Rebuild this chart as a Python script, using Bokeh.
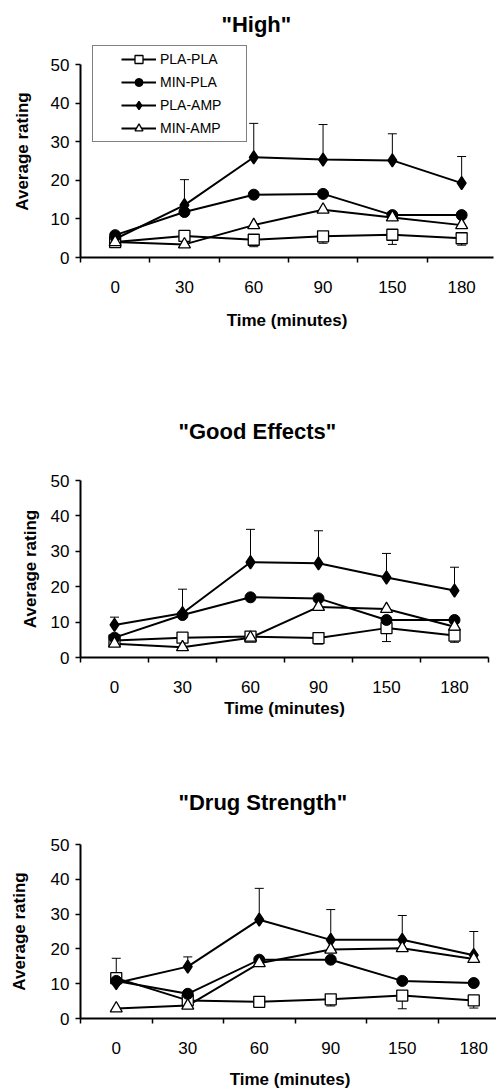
import numpy as np
from bokeh.plotting import figure
from bokeh.models import (Range1d, FixedTicker, ColumnDataSource, Whisker, TeeHead,
                          Legend, LegendItem)
from bokeh.layouts import column
from bokeh.embed import file_html
from bokeh.resources import INLINE

# ---------------- data ----------------
times = ["0", "30", "60", "90", "150", "180"]
series_names = ["PLA-PLA", "MIN-PLA", "PLA-AMP", "MIN-AMP"]

high_pla_pla = [4.0, 5.6, 4.6, 5.5, 5.9, 5.0]
high_pla_pla_err = [0.5, 0.5, 1.8, 1.8, 2.5, 1.8]
high_min_pla = [5.8, 11.8, 16.3, 16.5, 11.0, 11.0]
high_pla_amp = [4.8, 13.6, 26.0, 25.4, 25.2, 19.3]
high_pla_amp_err = [0.5, 6.6, 8.8, 9.1, 6.9, 6.9]
high_min_amp = [4.0, 3.4, 8.4, 12.4, 10.4, 8.4]

good_pla_pla = [4.8, 5.6, 5.9, 5.5, 8.3, 6.2]
good_pla_pla_err = [0.5, 0.5, 0.5, 1.7, 3.8, 1.9]
good_min_pla = [5.6, 12.0, 17.0, 16.7, 10.6, 10.6]
good_pla_amp = [9.2, 12.5, 26.9, 26.6, 22.6, 18.9]
good_pla_amp_err = [2.2, 6.8, 9.3, 9.2, 6.8, 6.6]
good_min_amp = [3.9, 2.9, 5.6, 14.3, 13.7, 8.7]

drug_pla_pla = [11.6, 5.2, 4.8, 5.5, 6.6, 5.2]
drug_pla_pla_err = [0.5, 0.5, 1.5, 1.9, 3.8, 2.2]
drug_min_pla = [10.8, 7.1, 16.9, 16.9, 10.8, 10.2]
drug_pla_amp = [10.2, 14.9, 28.4, 22.6, 22.6, 18.2]
drug_pla_amp_err = [7.1, 2.8, 9.0, 8.7, 7.0, 6.8]
drug_min_amp = [2.9, 3.7, 15.9, 19.8, 20.2, 17.1]

y_ticks = [0, 10, 20, 30, 40, 50]

FONT = "Liberation Sans"


def make_panel(title, pla_pla, pla_pla_err, min_pla, pla_amp, pla_amp_err, min_amp,
               frame_w, frame_h, x_end, y_end, border_left, border_right, border_top,
               border_bottom, title_offset, title_standoff, xlabel_standoff,
               ylabel_standoff, legend=False):
    idx = list(range(len(times)))
    p = figure(frame_width=frame_w, frame_height=frame_h,
               x_range=Range1d(-0.5, x_end), y_range=Range1d(0, y_end),
               output_backend="svg", toolbar_location=None,
               min_border_left=border_left, min_border_right=border_right,
               min_border_top=border_top, min_border_bottom=border_bottom)
    p.background_fill_color = "white"
    p.border_fill_color = "white"
    p.outline_line_color = None
    p.xgrid.visible = False
    p.ygrid.visible = False

    p.title.text = title
    p.title.align = "left"
    p.title.offset = title_offset
    p.title.standoff = title_standoff
    p.title.text_font = FONT
    p.title.text_font_size = "22px"
    p.title.text_font_style = "bold"
    p.title.text_color = "black"

    # x axis: labels at category centers, ticks at category boundaries
    xa = p.xaxis[0]
    xa.ticker = FixedTicker(ticks=idx, minor_ticks=[i - 0.5 for i in range(len(times) + 1)])
    xa.major_label_overrides = {i: t for i, t in zip(idx, times)}
    xa.major_tick_out = 0
    xa.major_tick_in = 0
    xa.minor_tick_out = 5
    xa.minor_tick_in = 0
    xa.minor_tick_line_width = 1.5
    xa.minor_tick_line_color = "black"
    xa.axis_line_width = 2
    xa.axis_line_color = "black"
    xa.major_label_standoff = 18
    xa.major_label_text_font = FONT
    xa.major_label_text_font_size = "17px"
    xa.major_label_text_color = "black"
    xa.axis_label = "Time (minutes)"
    xa.axis_label_text_font = FONT
    xa.axis_label_text_font_size = "17px"
    xa.axis_label_text_font_style = "bold"
    xa.axis_label_text_color = "black"
    xa.axis_label_standoff = xlabel_standoff

    ya = p.yaxis[0]
    ya.ticker = FixedTicker(ticks=y_ticks, minor_ticks=[])
    ya.bounds = (0, 50)
    ya.major_tick_out = 5
    ya.major_tick_in = 0
    ya.major_tick_line_width = 1.5
    ya.major_tick_line_color = "black"
    ya.axis_line_width = 2
    ya.axis_line_color = "black"
    ya.major_label_standoff = 6
    ya.major_label_text_font = FONT
    ya.major_label_text_font_size = "17px"
    ya.major_label_text_color = "black"
    ya.axis_label = "Average rating"
    ya.axis_label_text_font = FONT
    ya.axis_label_text_font_size = "17px"
    ya.axis_label_text_font_style = "bold"
    ya.axis_label_text_color = "black"
    ya.axis_label_standoff = ylabel_standoff

    src = ColumnDataSource(dict(
        x=idx,
        pla_pla=pla_pla, pla_pla_lo=[v - e for v, e in zip(pla_pla, pla_pla_err)],
        min_pla=min_pla,
        pla_amp=pla_amp, pla_amp_hi=[v + e for v, e in zip(pla_amp, pla_amp_err)],
        min_amp=min_amp,
    ))

    # error bars (one-sided)
    w1 = Whisker(source=src, base="x", lower="pla_amp", upper="pla_amp_hi",
                 upper_head=TeeHead(size=9, line_width=1, line_color="black"),
                 lower_head=None, line_width=1, line_color="black")
    w2 = Whisker(source=src, base="x", lower="pla_pla_lo", upper="pla_pla",
                 lower_head=TeeHead(size=9, line_width=1, line_color="black"),
                 upper_head=None, line_width=1, line_color="black")
    p.add_layout(w1)
    p.add_layout(w2)

    lw = 2
    l1 = p.line("x", "pla_pla", source=src, line_color="black", line_width=lw)
    l2 = p.line("x", "min_pla", source=src, line_color="black", line_width=lw)
    l3 = p.line("x", "pla_amp", source=src, line_color="black", line_width=lw)
    l4 = p.line("x", "min_amp", source=src, line_color="black", line_width=lw)

    m1 = p.scatter("x", "pla_pla", source=src, marker="square", size=11,
                   fill_color="white", line_color="black", line_width=1.3)
    m2 = p.scatter("x", "min_pla", source=src, marker="circle", size=11,
                   fill_color="black", line_color="black", line_width=1)
    m3 = p.scatter("x", "pla_amp", source=src, marker="diamond", size=13,
                   fill_color="black", line_color="black", line_width=1.5)
    m4 = p.scatter("x", "min_amp", source=src, marker="triangle", size=12,
                   fill_color="white", line_color="black", line_width=1.3)

    if legend:
        items = [LegendItem(label=series_names[0], renderers=[l1, m1]),
                 LegendItem(label=series_names[1], renderers=[l2, m2]),
                 LegendItem(label=series_names[2], renderers=[l3, m3]),
                 LegendItem(label=series_names[3], renderers=[l4, m4])]
        lg = Legend(items=items, location=(12, 115))
        lg.label_text_font = FONT
        lg.label_text_font_size = "14px"
        lg.label_text_color = "black"
        lg.glyph_width = 35
        lg.glyph_height = 20
        lg.label_height = 20
        lg.label_width = 83
        lg.label_standoff = 4
        lg.spacing = 3
        lg.padding = 3
        lg.margin = 0
        lg.title = " "
        lg.title_location = "left"
        lg.title_text_font_size = "13px"
        lg.title_standoff = 10
        lg.border_line_color = "black"
        lg.border_line_width = 1
        lg.background_fill_color = "white"
        lg.background_fill_alpha = 1
        p.add_layout(lg, "center")
    return p


p1 = make_panel('"High"', high_pla_pla, high_pla_pla_err, high_min_pla, high_pla_amp,
                high_pla_amp_err, high_min_amp,
                frame_w=413, frame_h=212, x_end=-0.5 + 413 / 69.3, y_end=212 / 3.854,
                border_left=80, border_right=3, border_top=45, border_bottom=95,
                title_offset=141, title_standoff=18, xlabel_standoff=15,
                ylabel_standoff=16, legend=True)
p2 = make_panel('"Good Effects"', good_pla_pla, good_pla_pla_err, good_min_pla, good_pla_amp,
                good_pla_amp_err, good_min_amp,
                frame_w=408, frame_h=177, x_end=5.5, y_end=50,
                border_left=79, border_right=9, border_top=128, border_bottom=83,
                title_offset=98, title_standoff=74, xlabel_standoff=3,
                ylabel_standoff=8)
p3 = make_panel('"Drug Strength"', drug_pla_pla, drug_pla_pla_err, drug_min_pla, drug_pla_amp,
                drug_pla_amp_err, drug_min_amp,
                frame_w=419, frame_h=174, x_end=-0.5 + 419 / 71.5, y_end=50,
                border_left=77, border_right=0, border_top=104, border_bottom=72,
                title_offset=98, title_standoff=60, xlabel_standoff=13,
                ylabel_standoff=19)

layout = column(p1, p2, p3, spacing=0)
open("out.html", "w").write(file_html(layout, INLINE))
